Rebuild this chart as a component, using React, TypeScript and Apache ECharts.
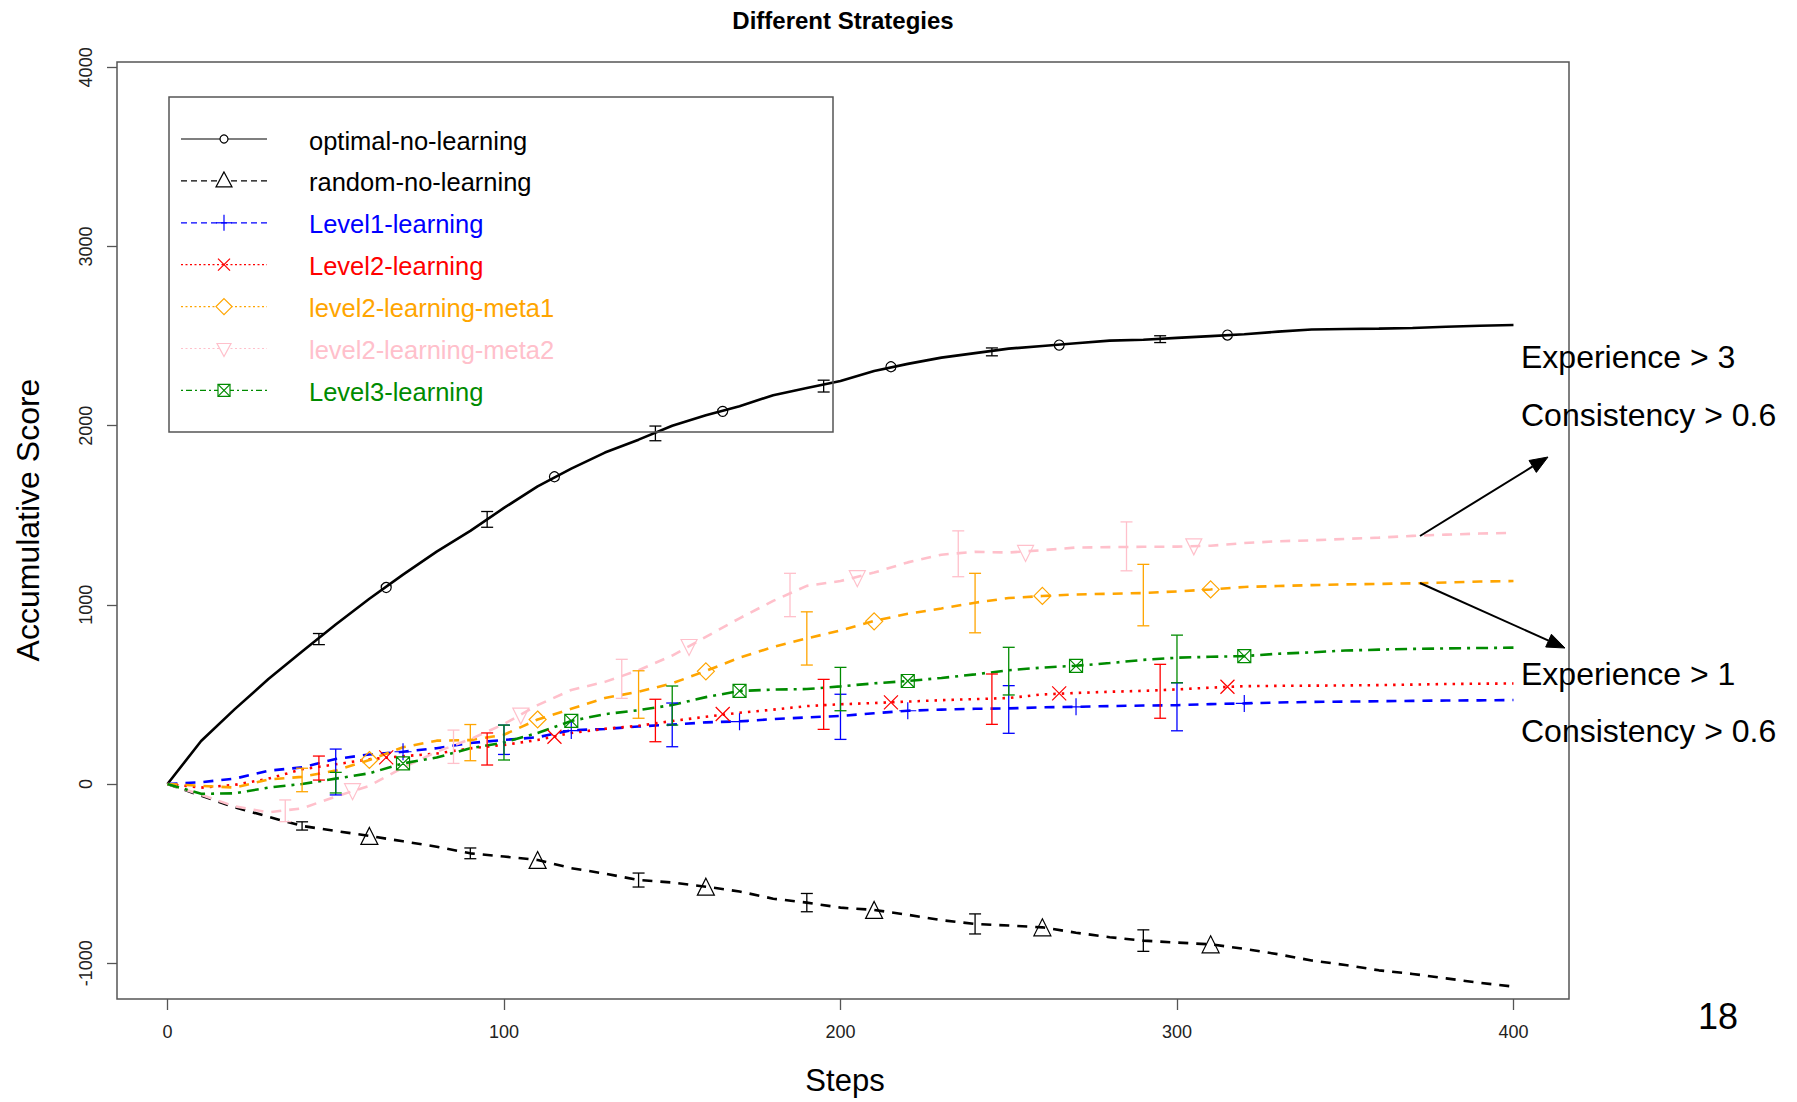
import React, { useEffect, useRef } from 'react';
import * as echarts from 'echarts';

// ---------- data ----------
const steps = [0, 10, 20, 30, 40, 50, 60, 70, 80, 90, 100, 110, 120, 130, 140, 150, 160, 170, 180, 190, 200,
  210, 220, 230, 240, 250, 260, 270, 280, 290, 300, 310, 320, 330, 340, 350, 360, 370, 380, 390, 400];

const optimalNoLearning = [0, 240, 418, 586, 740, 890, 1034, 1169, 1297, 1413, 1541, 1661, 1760, 1850, 1922, 2000, 2058, 2109, 2170, 2210, 2250,
  2305, 2345, 2380, 2405, 2430, 2445, 2460, 2475, 2480, 2490, 2500, 2510, 2525, 2537, 2540, 2542, 2545, 2552, 2558, 2562];
const randomNoLearning = [0, -65, -130, -183, -234, -262, -290, -320, -350, -387, -405, -424, -470, -500, -536, -550, -573, -600, -640, -662, -690,
  -703, -730, -760, -781, -790, -800, -830, -855, -874, -885, -895, -920, -950, -985, -1010, -1040, -1060, -1085, -1110, -1131];
const level1Learning = [0, 10, 30, 74, 93, 140, 165, 180, 200, 229, 246, 261, 300, 307, 321, 332, 344, 350, 362, 372, 380,
  395, 409, 415, 420, 422, 428, 431, 435, 438, 440, 446, 450, 455, 458, 460, 462, 464, 466, 467, 469];
const level2Learning = [0, -20, -5, 30, 82, 110, 138, 155, 170, 199, 218, 246, 285, 308, 325, 352, 375, 398, 415, 435, 445,
  452, 460, 468, 474, 480, 500, 508, 515, 520, 528, 538, 546, 548, 549, 550, 552, 555, 558, 560, 561];
const level2LearningMeta1 = [0, -10, -20, 25, 40, 75, 134, 205, 242, 245, 275, 360, 420, 480, 515, 562, 631, 705, 765, 813, 857,
  910, 950, 980, 1012, 1038, 1049, 1058, 1062, 1066, 1075, 1086, 1100, 1105, 1110, 1114, 1117, 1120, 1125, 1130, 1133];
const level2LearningMeta2 = [0, -60, -125, -158, -136, -70, -10, 92, 180, 250, 335, 440, 525, 570, 635, 717, 821, 925, 1022, 1106, 1133,
  1180, 1237, 1280, 1296, 1292, 1305, 1320, 1322, 1324, 1325, 1330, 1345, 1355, 1360, 1368, 1375, 1385, 1392, 1398, 1402];
const level3Learning = [0, -55, -52, -20, 0, 30, 60, 115, 148, 199, 232, 285, 352, 390, 412, 441, 485, 519, 527, 530, 545,
  562, 575, 592, 612, 635, 650, 660, 675, 693, 705, 710, 714, 727, 735, 745, 750, 754, 757, 759, 761];

// marker points: [step, value]
const optimalMarkers = [[65, 1097], [115, 1715], [165, 2080], [215, 2329], [265, 2450], [315, 2506]];
const randomMarkers = [[60, -290], [110, -424], [160, -573], [210, -703], [260, -800], [310, -895]];
const level1Markers = [[70, 180], [120, 298], [170, 348], [220, 409], [270, 431], [320, 450]];
const level2Markers = [[65, 149], [115, 264], [165, 391], [215, 456], [265, 506], [315, 543]];
const meta1Markers = [[60, 134], [110, 360], [160, 629], [210, 908], [260, 1050], [310, 1086]];
const meta2Markers = [[55, -43], [105, 379], [155, 762], [205, 1146], [255, 1287], [305, 1324]];
const level3Markers = [[70, 115], [120, 352], [170, 520], [220, 575], [270, 659], [320, 714]];

// error bars: [step, low, high]
const optimalErrors = [[45, 778, 840], [95, 1433, 1521], [145, 1916, 1998], [195, 2188, 2254], [245, 2390, 2434], [295, 2464, 2502]];
const randomErrors = [[40, -257, -211], [90, -417, -357], [140, -575, -497], [190, -713, -611], [240, -837, -725], [290, -934, -814]];
const level1Errors = [[50, -61, 195], [100, 165, 329], [150, 208, 452], [200, 249, 501], [250, 283, 549], [300, 297, 565]];
const level2Errors = [[45, 22, 156], [95, 106, 285], [145, 236, 473], [195, 305, 584], [245, 333, 614], [295, 367, 668]];
const meta1Errors = [[40, -43, 88], [90, 130, 332], [140, 367, 632], [190, 664, 961], [240, 844, 1176], [290, 883, 1226]];
const meta2Errors = [[35, -210, -89], [85, 115, 301], [135, 478, 696], [185, 934, 1176], [235, 1157, 1413], [285, 1190, 1463]];
const level3Errors = [[50, -50, 65], [100, 134, 329], [150, 329, 547], [200, 409, 651], [250, 497, 763], [300, 565, 831]];

const xTicks = [0, 100, 200, 300, 400];
const yTicks = [-1000, 0, 1000, 2000, 3000, 4000];

const seriesNames = ['optimal-no-learning', 'random-no-learning', 'Level1-learning', 'Level2-learning',
  'level2-learning-meta1', 'level2-learning-meta2', 'Level3-learning'];

const FONT = "'Liberation Sans', Arial, Helvetica, sans-serif";

const DASH = [10, 8];
const DOT = [2.5, 6];
const DOTDASH = [12, 6, 3, 6];

const SYM_PLUS = 'path://M0,5L10,5M5,0L5,10';
const SYM_CROSS = 'path://M0,0L10,10M10,0L0,10';
const SYM_BOXX = 'path://M0,0L10,0L10,10L0,10ZM0,0L10,10M10,0L0,10';
const SYM_INVTRI = 'path://M0,0L10,0L5,8.66Z';

type Def = {
  name: string; color: string; values: number[]; dash: any; legendDash: number[] | null;
  markers: number[][]; errors: number[][]; symbol: string; size: number; kind: string;
};

const defs: Def[] = [
  { name: seriesNames[0], color: '#000000', values: optimalNoLearning, dash: 'solid', legendDash: null, markers: optimalMarkers, errors: optimalErrors, symbol: 'circle', size: 10, kind: 'circle' },
  { name: seriesNames[1], color: '#000000', values: randomNoLearning, dash: DASH, legendDash: [6, 4], markers: randomMarkers, errors: randomErrors, symbol: 'triangle', size: 17, kind: 'tri' },
  { name: seriesNames[2], color: '#0000FF', values: level1Learning, dash: DASH, legendDash: [6, 4], markers: level1Markers, errors: level1Errors, symbol: SYM_PLUS, size: 17, kind: 'plus' },
  { name: seriesNames[3], color: '#FF0000', values: level2Learning, dash: DOT, legendDash: [2, 2.5], markers: level2Markers, errors: level2Errors, symbol: SYM_CROSS, size: 14, kind: 'cross' },
  { name: seriesNames[4], color: '#FFA500', values: level2LearningMeta1, dash: DASH, legendDash: [2, 2.5], markers: meta1Markers, errors: meta1Errors, symbol: 'diamond', size: 17, kind: 'diamond' },
  { name: seriesNames[5], color: '#FFC0CB', values: level2LearningMeta2, dash: DASH, legendDash: [2, 2.5], markers: meta2Markers, errors: meta2Errors, symbol: SYM_INVTRI, size: 16, kind: 'invtri' },
  { name: seriesNames[6], color: '#008B00', values: level3Learning, dash: DOTDASH, legendDash: [2, 3, 6, 3], markers: level3Markers, errors: level3Errors, symbol: SYM_BOXX, size: 13, kind: 'boxx' },
];

function legendMarker(kind: string, cx: number, cy: number, color: string): any[] {
  const st = { stroke: color, fill: 'none', lineWidth: 1.2 };
  switch (kind) {
    case 'circle':
      return [{ type: 'circle', shape: { cx, cy, r: 4 }, style: { ...st, fill: '#fff' }, z: 20 }];
    case 'tri':
      return [{ type: 'polygon', shape: { points: [[cx, cy - 9], [cx - 8, cy + 6], [cx + 8, cy + 6]] }, style: { ...st, fill: '#fff' }, z: 20 }];
    case 'plus':
      return [
        { type: 'line', shape: { x1: cx - 8, y1: cy, x2: cx + 8, y2: cy }, style: st, z: 20 },
        { type: 'line', shape: { x1: cx, y1: cy - 8, x2: cx, y2: cy + 8 }, style: st, z: 20 },
      ];
    case 'cross':
      return [
        { type: 'line', shape: { x1: cx - 6, y1: cy - 6, x2: cx + 6, y2: cy + 6 }, style: st, z: 20 },
        { type: 'line', shape: { x1: cx + 6, y1: cy - 6, x2: cx - 6, y2: cy + 6 }, style: st, z: 20 },
      ];
    case 'diamond':
      return [{ type: 'polygon', shape: { points: [[cx, cy - 8], [cx + 8, cy], [cx, cy + 8], [cx - 8, cy]] }, style: { ...st, fill: '#fff' }, z: 20 }];
    case 'invtri':
      return [{ type: 'polygon', shape: { points: [[cx - 7, cy - 5], [cx + 7, cy - 5], [cx, cy + 8]] }, style: { ...st, fill: '#fff' }, z: 20 }];
    case 'boxx':
      return [
        { type: 'rect', shape: { x: cx - 6, y: cy - 6, width: 12, height: 12 }, style: { ...st, fill: '#fff' }, z: 20 },
        { type: 'line', shape: { x1: cx - 6, y1: cy - 6, x2: cx + 6, y2: cy + 6 }, style: st, z: 21 },
        { type: 'line', shape: { x1: cx + 6, y1: cy - 6, x2: cx - 6, y2: cy + 6 }, style: st, z: 21 },
      ];
  }
  return [];
}

function arrow(x1: number, y1: number, x2: number, y2: number): any[] {
  const dx = x2 - x1, dy = y2 - y1;
  const L = Math.hypot(dx, dy);
  const ux = dx / L, uy = dy / L;
  const len = 18, half = 7;
  const bx = x2 - ux * len, by = y2 - uy * len;
  const px = -uy, py = ux;
  return [
    { type: 'line', shape: { x1, y1, x2: bx, y2: by }, style: { stroke: '#000', lineWidth: 2 }, z: 20 },
    { type: 'polygon', shape: { points: [[x2, y2], [bx + px * half, by + py * half], [bx - px * half, by - py * half]] }, style: { fill: '#000', stroke: '#000', lineWidth: 1 }, z: 20 },
  ];
}

function txt(text: string, x: number, y: number, size: number, color = '#000', opts: any = {}) {
  return {
    type: 'text', z: 20,
    x, y,
    rotation: opts.rotation || 0,
    style: {
      text, x: 0, y: 0, fill: color, font: `${opts.bold ? 'bold ' : ''}${size}px ${FONT}`,
      textAlign: opts.align || 'left', align: opts.align || 'left',
      textVerticalAlign: 'middle', verticalAlign: 'middle',
    },
  };
}

export default function App() {
  const ref = useRef<HTMLDivElement>(null);
  useEffect(() => {
    const chart = echarts.init(ref.current!, null, { renderer: 'svg' });

    const series: any[] = [];
    defs.forEach((d) => {
      series.push({
        name: d.name, type: 'line', data: steps.map((s, i) => [s, d.values[i]]),
        symbol: 'none', showSymbol: false, z: 2,
        lineStyle: { color: d.color, width: 2.6, type: d.dash, cap: 'butt' },
        silent: true,
      });
    });
    defs.forEach((d) => {
      series.push({
        name: d.name + '-err', type: 'custom', z: 3, silent: true,
        encode: { x: 0, y: [1, 2] },
        data: d.errors,
        renderItem: (params: any, api: any) => {
          const x = api.value(0), lo = api.value(1), hi = api.value(2);
          const p1 = api.coord([x, lo]);
          const p2 = api.coord([x, hi]);
          const st = { stroke: d.color, lineWidth: 1.3, fill: 'none' };
          return {
            type: 'group',
            children: [
              { type: 'line', shape: { x1: p1[0], y1: p1[1], x2: p2[0], y2: p2[1] }, style: st },
              { type: 'line', shape: { x1: p1[0] - 6, y1: p1[1], x2: p1[0] + 6, y2: p1[1] }, style: st },
              { type: 'line', shape: { x1: p2[0] - 6, y1: p2[1], x2: p2[0] + 6, y2: p2[1] }, style: st },
            ],
          };
        },
      });
    });
    defs.forEach((d) => {
      series.push({
        name: d.name + '-pts', type: 'scatter', z: 4, silent: true,
        data: d.markers,
        symbol: d.symbol, symbolSize: d.size,
        itemStyle: { color: 'rgba(255,255,255,0)', borderColor: d.color, borderWidth: 1.2, opacity: 1 },
      });
    });

    const graphics: any[] = [];
    // title and axis titles
    graphics.push(txt('Different Strategies', 843, 20, 24, '#000', { align: 'center', bold: true }));
    graphics.push(txt('Steps', 845, 1080, 31, '#000', { align: 'center' }));
    graphics.push(txt('Accumulative Score', 28, 520, 32, '#000', { align: 'center', rotation: Math.PI / 2 }));
    // legend
    graphics.push({ type: 'rect', shape: { x: 169, y: 97, width: 664, height: 335 }, style: { fill: 'none', stroke: '#555', lineWidth: 1.5 }, z: 19 });
    defs.forEach((d, i) => {
      const ly = 139 + i * 41.9;
      const lst: any = { stroke: d.color, lineWidth: 1.2 };
      if (d.legendDash) lst.lineDash = d.legendDash;
      graphics.push({ type: 'line', shape: { x1: 181, y1: ly, x2: 267, y2: ly }, style: lst, z: 19 });
      legendMarker(d.kind, 224, ly, d.color).forEach((g) => graphics.push(g));
      graphics.push(txt(d.name, 309, ly + 1.5, 25.5, d.color));
    });
    // annotations
    graphics.push(txt('Experience > 3', 1521, 357, 32));
    graphics.push(txt('Consistency > 0.6', 1521, 415, 32));
    graphics.push(txt('Experience > 1', 1521, 674, 32));
    graphics.push(txt('Consistency > 0.6', 1521, 731, 32));
    graphics.push(txt('18', 1698, 1016, 36));
    arrow(1420, 536, 1548, 457).forEach((g) => graphics.push(g));
    arrow(1420, 583, 1565, 648).forEach((g) => graphics.push(g));

    const option: any = {
      animation: false,
      backgroundColor: '#ffffff',
      grid: { left: 117, right: 228, top: 62, bottom: 103, show: true, borderColor: '#555', borderWidth: 1.5, backgroundColor: 'transparent' },
      xAxis: {
        type: 'value', min: -15, max: 416.5,
        axisLine: { show: false, onZero: false },
        splitLine: { show: false },
        axisTick: { show: true, length: 11, customValues: xTicks, lineStyle: { color: '#555', width: 1.3 } },
        axisLabel: { customValues: xTicks, margin: 24, fontSize: 18, color: '#222', fontFamily: FONT, formatter: (v: number) => String(v) },
      },
      yAxis: {
        type: 'value', min: -1200, max: 4030,
        axisLine: { show: false, onZero: false },
        splitLine: { show: false },
        axisTick: { show: true, length: 10, customValues: yTicks, lineStyle: { color: '#555', width: 1.3 } },
        axisLabel: { customValues: yTicks, rotate: 90, margin: 22, fontSize: 18, color: '#222', fontFamily: FONT, formatter: (v: number) => String(v) },
      },
      series,
      graphic: { elements: graphics },
    };
    chart.setOption(option);
    return () => chart.dispose();
  }, []);
  return <div ref={ref} style={{ position: 'fixed', left: 0, top: 0, width: 1797, height: 1102, background: '#fff' }} />;
}
